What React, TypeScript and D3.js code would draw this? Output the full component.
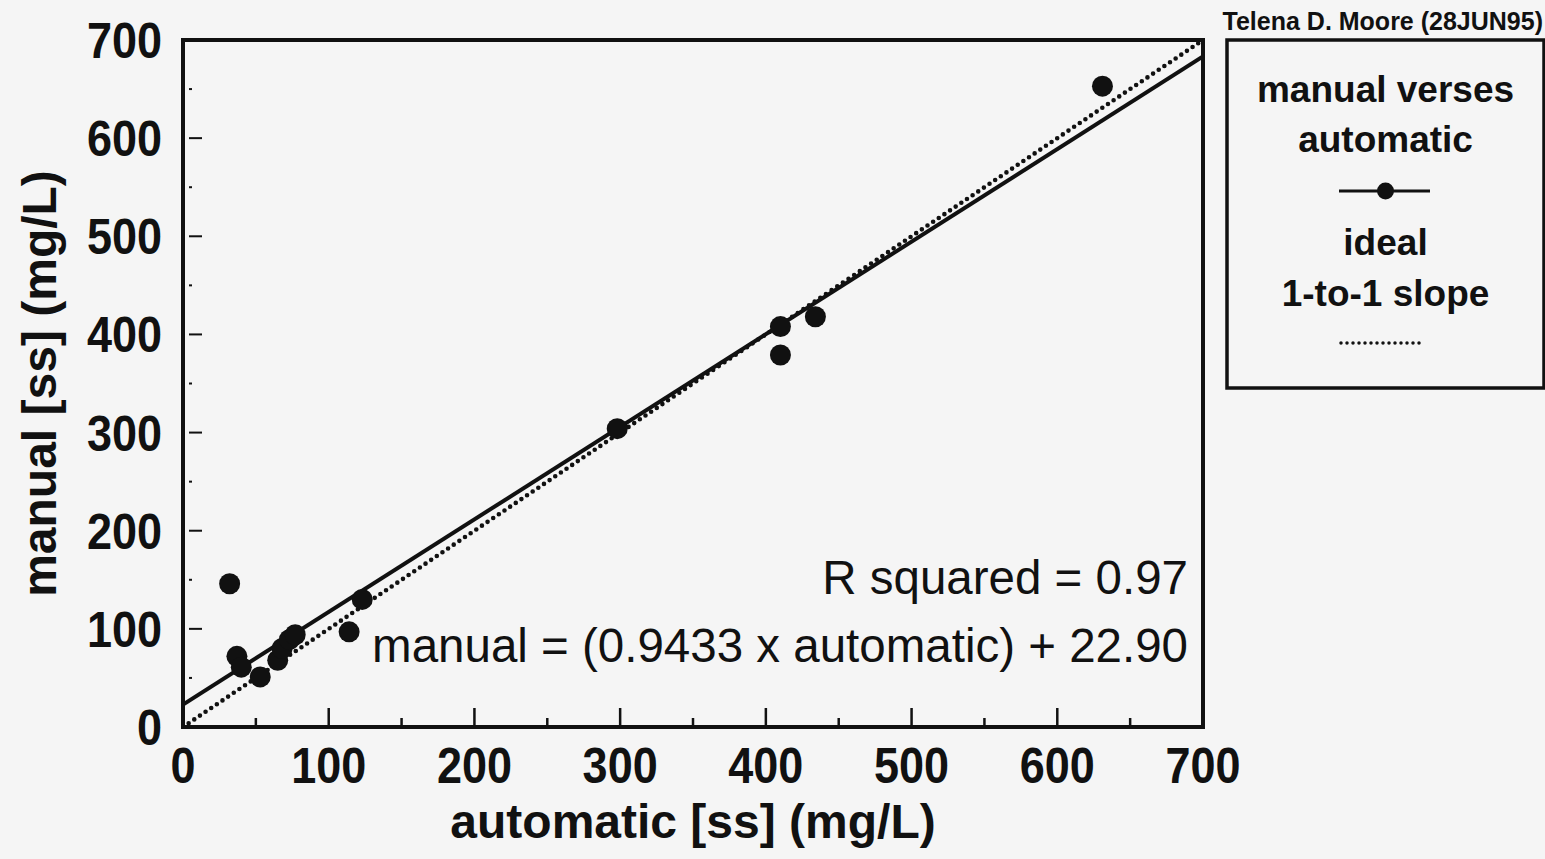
import React from "react";
import * as d3 from "d3";

const automatic = [32, 37, 40, 53, 65, 68, 73, 77, 114, 123, 298, 410, 410, 434, 631];
const manual = [146, 72, 61, 51, 68, 80, 89, 94, 97, 130, 304, 408, 379, 418, 653];
const majorTicks = [0, 100, 200, 300, 400, 500, 600, 700];
const minorTicks = [50, 150, 250, 350, 450, 550, 650];
const fitSlope = 0.9433;
const fitIntercept = 22.9;
const rSquared = "0.97";
const legendLines = ["manual verses", "automatic", "ideal", "1-to-1 slope"];
const credit = "Telena D. Moore (28JUN95)";

const W = 1545;
const H = 859;
const FONT = "'Liberation Sans', Arial, Helvetica, sans-serif";
const INK = "#111";

function T({ x, y, sx = 1, anchor = "middle", size, weight = "bold", rotate = 0, children }: any) {
  return (
    <text
      transform={`translate(${x},${y}) rotate(${rotate}) scale(${sx},1)`}
      textAnchor={anchor}
      fontFamily={FONT}
      fontSize={size}
      fontWeight={weight}
      fill={INK}
    >
      {children}
    </text>
  );
}

export default function App() {
  const x = d3.scaleLinear().domain([0, 700]).range([183, 1203]);
  const y = d3.scaleLinear().domain([0, 700]).range([727, 40]);
  const line = d3
    .line<[number, number]>()
    .x((d) => x(d[0]))
    .y((d) => y(d[1]));
  const fitPts: [number, number][] = [0, 700].map((v) => [v, fitSlope * v + fitIntercept]);
  const idealPts: [number, number][] = [0, 700].map((v) => [v, v]);
  const pts = automatic.map((a, i) => [a, manual[i]] as [number, number]);

  const lx = 1385.5;

  return (
    <svg
      width={W}
      height={H}
      style={{ position: "absolute", left: 0, top: 0, background: "#f5f5f5" }}
    >
      <rect x={0} y={0} width={W} height={H} fill="#f5f5f5" />
      <defs>
        <clipPath id="plot">
          <rect x={x(0)} y={y(700)} width={x(700) - x(0)} height={y(0) - y(700)} />
        </clipPath>
      </defs>

      {/* x ticks */}
      {majorTicks.map((t) => (
        <line key={"xM" + t} x1={x(t)} x2={x(t)} y1={y(0)} y2={y(0) - 19} stroke={INK} strokeWidth={2.5} />
      ))}
      {minorTicks.map((t) => (
        <line key={"xm" + t} x1={x(t)} x2={x(t)} y1={y(0)} y2={y(0) - 9} stroke={INK} strokeWidth={2.5} />
      ))}
      {/* y ticks */}
      {majorTicks.map((t) => (
        <line key={"yM" + t} x1={x(0) + 6} x2={x(0) + 19} y1={y(t)} y2={y(t)} stroke={INK} strokeWidth={2} />
      ))}
      {minorTicks.map((t) => (
        <line key={"ym" + t} x1={x(0) + 6} x2={x(0) + 9} y1={y(t)} y2={y(t)} stroke={INK} strokeWidth={2} />
      ))}

      {/* lines */}
      <g clipPath="url(#plot)">
        <path
          d={line(idealPts) || ""}
          fill="none"
          stroke={INK}
          strokeWidth={4.6}
          strokeDasharray="0 6.8"
          strokeLinecap="round"
        />
        <path d={line(fitPts) || ""} fill="none" stroke={INK} strokeWidth={4} />
      </g>

      {/* points */}
      {pts.map((p, i) => (
        <circle key={i} cx={x(p[0])} cy={y(p[1])} r={10.5} fill={INK} />
      ))}

      {/* frame */}
      <rect
        x={x(0)}
        y={y(700)}
        width={x(700) - x(0)}
        height={y(0) - y(700)}
        fill="none"
        stroke={INK}
        strokeWidth={4}
      />

      {/* tick labels */}
      {majorTicks.map((t) => (
        <T key={"xl" + t} x={x(t)} y={y(0) + 56} sx={0.9} size={50}>
          {t}
        </T>
      ))}
      {majorTicks.map((t) => (
        <T key={"yl" + t} x={162} y={y(t) + 18} sx={0.9} size={50} anchor="end">
          {t}
        </T>
      ))}

      {/* axis titles */}
      <T x={(x(0) + x(700)) / 2} y={838} size={48}>
        automatic [ss] (mg/L)
      </T>
      <T x={56} y={(y(0) + y(700)) / 2} size={48} rotate={-90}>
        manual [ss] (mg/L)
      </T>

      {/* annotations */}
      <T x={1188} y={594} size={47.5} weight="normal" anchor="end">
        {`R squared = ${rSquared}`}
      </T>
      <T x={1188} y={662} size={47.5} weight="normal" anchor="end">
        {`manual = (${fitSlope.toFixed(4)} x automatic) + ${fitIntercept.toFixed(2)}`}
      </T>

      {/* credit */}
      <T x={1543} y={30} size={25} anchor="end">
        {credit}
      </T>

      {/* legend */}
      <rect x={1227} y={40} width={317} height={348} fill="none" stroke={INK} strokeWidth={3.5} />
      <T x={lx} y={102} size={37}>
        {legendLines[0]}
      </T>
      <T x={lx} y={152} size={37}>
        {legendLines[1]}
      </T>
      <line x1={1339} x2={1430} y1={191} y2={191} stroke={INK} strokeWidth={3} />
      <circle cx={lx} cy={191} r={8.5} fill={INK} />
      <T x={lx} y={255} size={37}>
        {legendLines[2]}
      </T>
      <T x={lx} y={306} size={37}>
        {legendLines[3]}
      </T>
      <line
        x1={1341}
        x2={1425}
        y1={343}
        y2={343}
        stroke={INK}
        strokeWidth={3.5}
        strokeDasharray="0 6"
        strokeLinecap="round"
      />
    </svg>
  );
}
